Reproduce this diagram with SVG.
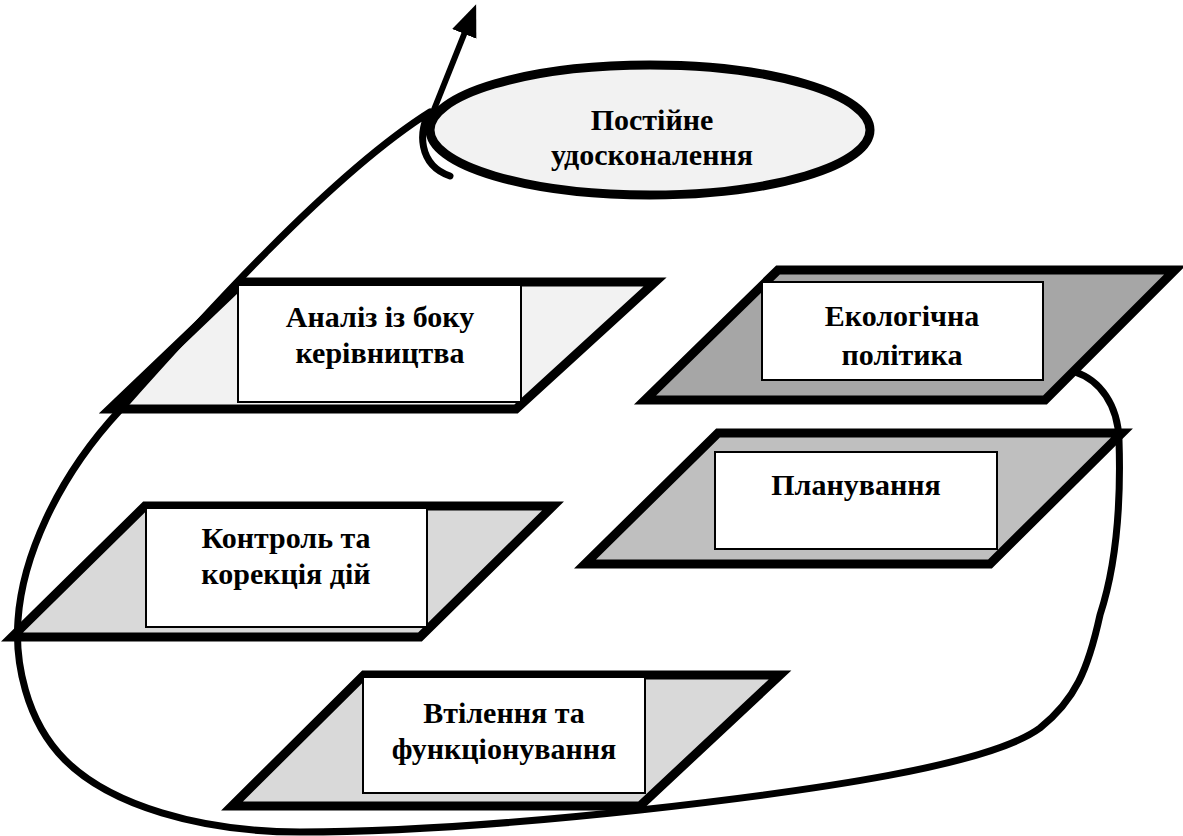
<svg xmlns="http://www.w3.org/2000/svg" width="1183" height="836" viewBox="0 0 1183 836">
  <style>
    .para { stroke: #000; stroke-width: 9; stroke-linejoin: miter; }
    .box { fill: #fff; stroke: #000; stroke-width: 2; }
    .lbl { font-family: "Liberation Serif", "Times New Roman", serif; font-weight: bold; font-size: 30px; fill: #000; text-anchor: middle; }
    .conn { fill: none; stroke: #000; stroke-width: 7; stroke-linejoin: round; stroke-linecap: round; }
  </style>
  <defs>
    <marker id="ah" markerUnits="userSpaceOnUse" markerWidth="34" markerHeight="28" refX="2" refY="13" orient="auto">
      <path d="M0,0 L32,13 L0,26 z" fill="#000"/>
    </marker>
  </defs>
  <rect width="1183" height="836" fill="#fff"/>

  <g id="node-analysis">
    <polygon class="para" fill="#f2f2f2" points="243,282 655,282 516,409 110,409"/>
    <rect class="box" x="238" y="285" width="283" height="117"/>
    <text class="lbl" x="380" y="327">Аналіз із боку</text>
    <text class="lbl" x="380" y="363">керівництва</text>
  </g>

  <g id="node-policy">
    <polygon class="para" fill="#a6a6a6" points="778,270 1175,270 1045,400 645,400"/>
    <rect class="box" x="762" y="282" width="281" height="98"/>
    <text class="lbl" x="902" y="326">Екологічна</text>
    <text class="lbl" x="902" y="365">політика</text>
  </g>

  <g id="node-planning">
    <polygon class="para" fill="#bfbfbf" points="718,433 1122,433 990,564 585,564"/>
    <rect class="box" x="715" y="452" width="282" height="97"/>
    <text class="lbl" x="856" y="495">Планування</text>
  </g>

  <g id="node-control">
    <polygon class="para" fill="#d9d9d9" points="145,506 553,506 420,637 12,637"/>
    <rect class="box" x="146" y="508" width="281" height="119"/>
    <text class="lbl" x="286" y="548">Контроль та</text>
    <text class="lbl" x="286" y="584">корекція дій</text>
  </g>

  <g id="node-implementation">
    <polygon class="para" fill="#d9d9d9" points="364,675 780,675 640,806 232,806"/>
    <rect class="box" x="363" y="677" width="282" height="116"/>
    <text class="lbl" x="504" y="723">Втілення та</text>
    <text class="lbl" x="504" y="759">функціонування</text>
  </g>

  <g id="connectors">
    <path class="conn" d="M1075,372 C1100,380 1118,405 1119,440 C1121,500 1118,560 1100,615 C1088,670 1075,700 1040,728 C990,765 820,790 640,810 C520,823 400,832 300,832 C200,832 110,805 65,760 C25,720 15,660 18,620 C22,560 55,480 120,410 C200,320 330,175 430,112 C418,130 418,165 450,176"/>
    <line x1="433" y1="112" x2="465" y2="32" stroke="#000" stroke-width="6" marker-end="url(#ah)"/>
  </g>

  <g id="node-improvement">
    <ellipse cx="650" cy="130" rx="220" ry="65" fill="#f2f2f2" stroke="#000" stroke-width="9"/>
    <text class="lbl" x="652" y="130">Постійне</text>
    <text class="lbl" x="652" y="165">удосконалення</text>
  </g>
</svg>
